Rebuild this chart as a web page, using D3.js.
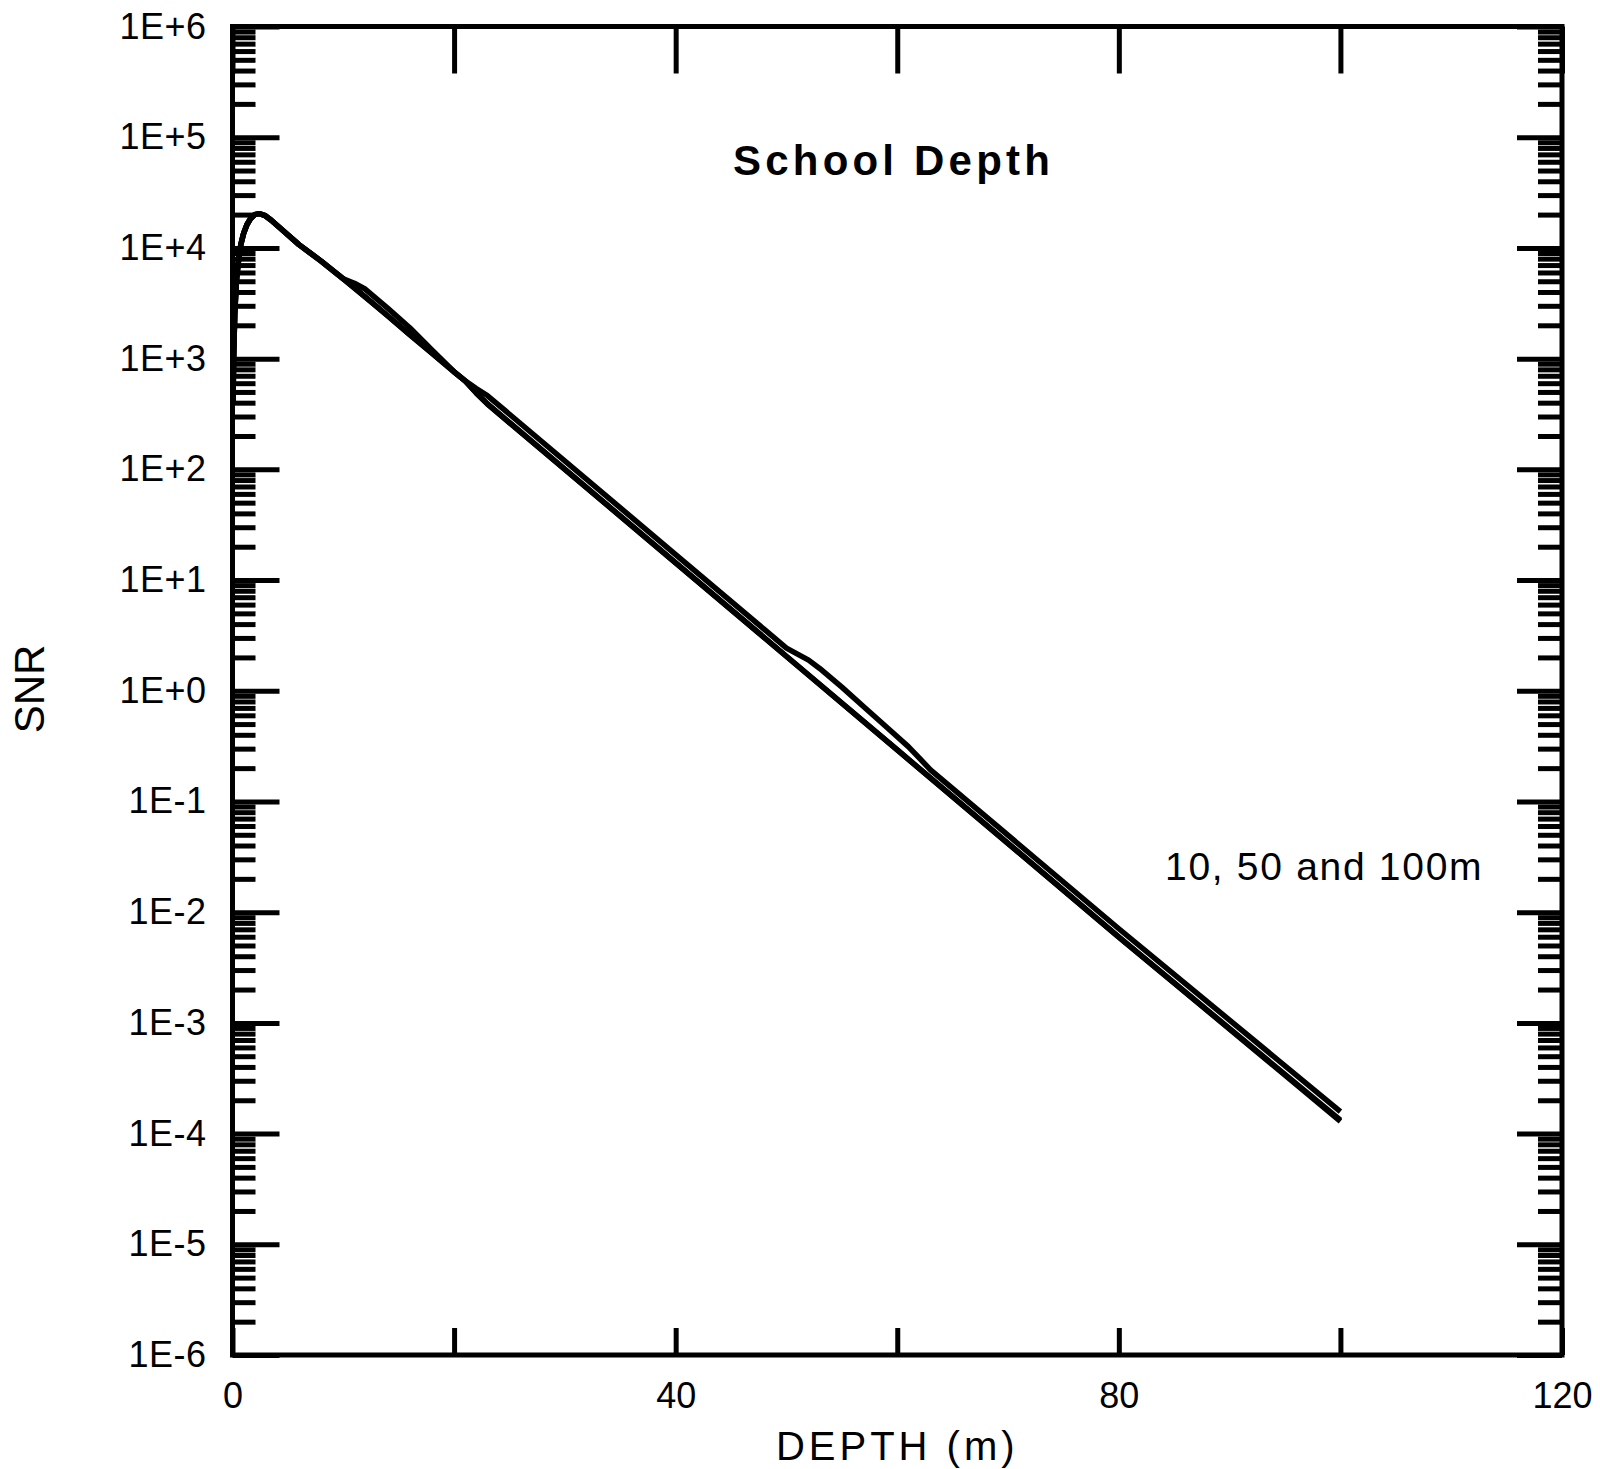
<!DOCTYPE html>
<html>
<head>
<meta charset="utf-8">
<script src="https://cdn.jsdelivr.net/npm/d3@7"></script>
<style>
  html, body { margin: 0; padding: 0; background: #fff; }
  svg { display: block; }
</style>
</head>
<body>
<svg id="chart" width="1600" height="1469"></svg>
<script>
// ---- data ----
const xTicks = [0, 20, 40, 60, 80, 100, 120];
const xTickLabels = ["0", "", "40", "", "80", "", "120"];
const yTicks = [1e6, 1e5, 1e4, 1e3, 1e2, 1e1, 1e0, 1e-1, 1e-2, 1e-3, 1e-4, 1e-5, 1e-6];
const yTickLabels = ["1E+6", "1E+5", "1E+4", "1E+3", "1E+2", "1E+1", "1E+0", "1E-1", "1E-2", "1E-3", "1E-4", "1E-5", "1E-6"];

// near-surface part shared by the three curves
const depthNear = [0.05, 0.1, 0.2, 0.35, 0.5, 0.75, 1.0, 1.3, 1.6, 2.0, 2.4, 2.9, 3.5, 4.5, 6, 8, 10];
const snrNear   = [400, 1000, 2500, 5000, 7100, 10700, 13500, 16200, 18200, 20000, 20400, 19700, 17800, 14500, 10700, 7600, 5250];

// school at 10 m
const depth10 = [11, 12, 14, 16, 18, 20, 21, 22, 23, 40, 60, 80, 100];
const snr10   = [4800, 4230, 2860, 1900, 1200, 760, 630, 490, 390, 14.3, 0.292, 0.00596, 1.29e-4];
// school at 50 m
const depth50 = [12, 14, 16, 18, 20, 21, 22, 23, 40, 48, 50, 51, 52, 53, 55, 57, 59, 61, 62, 63, 80, 100];
const snr50   = [3600, 2440, 1650, 1120, 760, 630, 537, 464, 17.0, 3.58, 2.43, 2.14, 1.89, 1.59, 1.078, 0.714, 0.473, 0.313, 0.246, 0.193, 0.00708, 1.58e-4];
// school at 100 m
const depth100 = [12, 14, 16, 18, 20, 21, 22, 23, 40, 60, 80, 100];
const snr100   = [3600, 2440, 1650, 1120, 760, 630, 490, 390, 14.3, 0.292, 0.00596, 1.32e-4];

const series = [
  { depth: depthNear.concat(depth10), snr: snrNear.concat(snr10) },
  { depth: depthNear.concat(depth50), snr: snrNear.concat(snr50) },
  { depth: depthNear.concat(depth100), snr: snrNear.concat(snr100) }
];

// ---- layout ----
const L = 232.5, R = 1562, T = 26.5, B = 1355;
const svg = d3.select("#chart");
svg.append("rect").attr("width", 1600).attr("height", 1469).attr("fill", "#fff");

const x = d3.scaleLinear().domain([0, 120]).range([L, R]);
const y = d3.scaleLog().domain([1e-6, 1e6]).range([B, T]);

const minorY = [];
for (let e = -6; e < 6; e++) for (let m = 2; m <= 9; m++) minorY.push(m * Math.pow(10, e));

const FONT = "'Liberation Sans', Arial, sans-serif";

function styleAxis(g, sw) {
  g.select(".domain").remove();
  g.selectAll(".tick line").attr("stroke", "#000").attr("stroke-width", sw);
  g.selectAll(".tick text").attr("fill", "#000").style("font-family", FONT);
}

// curves
const line = d3.line().x(d => x(d[0])).y(d => y(d[1]));
svg.append("g").selectAll("path").data(series).join("path")
  .attr("d", s => line(s.depth.map((d, i) => [d, s.snr[i]])))
  .attr("fill", "none").attr("stroke", "#000").attr("stroke-width", 5.5)
  .attr("stroke-linejoin", "round");

// left axis: minor + major
svg.append("g").attr("transform", `translate(${L},0)`)
  .call(d3.axisLeft(y).tickValues(minorY).tickSize(-23).tickFormat(""))
  .call(g => styleAxis(g, 5));
svg.append("g").attr("transform", `translate(${L},0)`)
  .call(d3.axisLeft(y).tickValues(yTicks).tickSize(-47).tickPadding(26)
        .tickFormat((d, i) => yTickLabels[i]))
  .call(g => styleAxis(g, 5))
  .call(g => g.selectAll(".tick text").style("font-size", "36px").style("letter-spacing", "0.5px"));

// right axis
svg.append("g").attr("transform", `translate(${R},0)`)
  .call(d3.axisRight(y).tickValues(minorY).tickSize(-24).tickFormat(""))
  .call(g => styleAxis(g, 5));
svg.append("g").attr("transform", `translate(${R},0)`)
  .call(d3.axisRight(y).tickValues(yTicks).tickSize(-45).tickFormat(""))
  .call(g => styleAxis(g, 5));

// bottom axis
svg.append("g").attr("transform", `translate(0,${B})`)
  .call(d3.axisBottom(x).tickValues(xTicks).tickSize(-27).tickPadding(27)
        .tickFormat((d, i) => xTickLabels[i]))
  .call(g => styleAxis(g, 5))
  .call(g => g.selectAll(".tick text").style("font-size", "36px"));

// top axis
svg.append("g").attr("transform", `translate(0,${T})`)
  .call(d3.axisTop(x).tickValues(xTicks).tickSize(-47).tickFormat(""))
  .call(g => styleAxis(g, 5));

// frame
svg.append("rect").attr("x", L).attr("y", T).attr("width", R - L).attr("height", B - T)
  .attr("fill", "none").attr("stroke", "#000").attr("stroke-width", 5);

// texts
svg.append("text").attr("x", 733).attr("y", 175)
  .style("font-family", FONT).style("font-weight", "bold").style("font-size", "42px")
  .style("letter-spacing", "4.2px").attr("fill", "#000").text("School Depth");

svg.append("text").attr("x", 1165).attr("y", 880)
  .style("font-family", FONT).style("font-size", "39px")
  .style("letter-spacing", "1.7px").attr("fill", "#000").text("10, 50 and 100m");

svg.append("text").attr("transform", "translate(44,689) rotate(-90)")
  .attr("text-anchor", "middle")
  .style("font-family", FONT).style("font-size", "42px").attr("fill", "#000").text("SNR");

svg.append("text").attr("x", (L + R) / 2).attr("y", 1460)
  .attr("text-anchor", "middle")
  .style("font-family", FONT).style("font-size", "40px").style("letter-spacing", "4px")
  .attr("fill", "#000").text("DEPTH (m)");
</script>
</body>
</html>
